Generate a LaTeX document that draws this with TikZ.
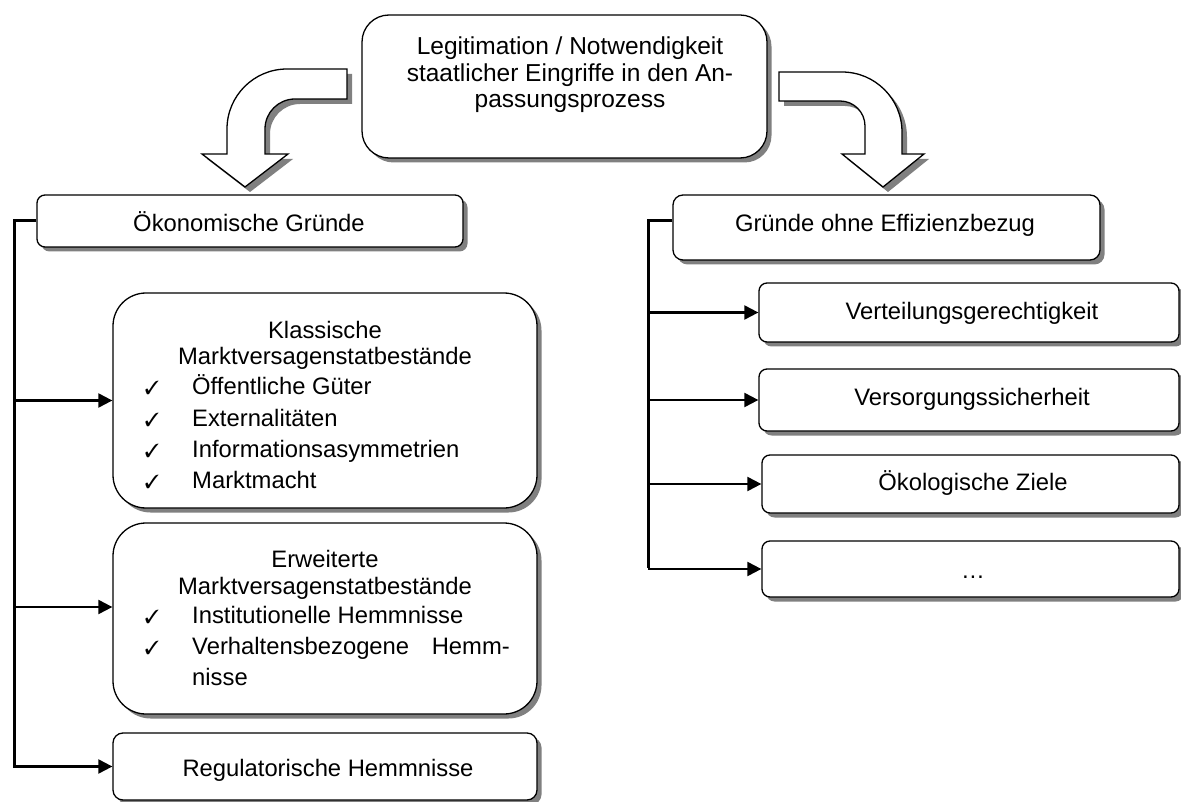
\documentclass[tikz,border=0pt]{standalone}
\usepackage{fontspec}
\setmainfont{Liberation Sans}
\usepackage{pifont}
\usetikzlibrary{shadows,arrows.meta,calc}
\tikzset{
  box/.style={draw=black, line width=1.3pt, fill=white, rounded corners=#1, inner sep=0pt,
    drop shadow={shadow xshift=4.5pt, shadow yshift=-4.5pt, fill=black!50, opacity=1}},
  box/.default=8pt,
  txt/.style={inner sep=0pt, anchor=base, font=\fontsize{23.8}{28}\selectfont},
  toptxt/.style={inner sep=0pt, anchor=base, font=\fontsize{24.5}{28}\selectfont},
  itm/.style={inner sep=0pt, anchor=base west, font=\fontsize{23.8}{28}\selectfont},
  chk/.style={inner sep=0pt, anchor=base, font=\fontsize{19}{20}\selectfont},
  bus/.style={line width=3pt},
  arr/.style={line width=2.2pt, -{Triangle[length=14pt,width=14pt]}},
  bent/.style={draw=black, line width=1.3pt, fill=white, line join=miter},
  bentshadow/.style={fill=black!50, draw=none}
}
\newcommand\LArrowPath{(347,69) -- (287,69) arc[start angle=270, end angle=180, radius=60] -- (227,154) -- (202,154) -- (245,187) -- (288,154) -- (265,154) -- (265,129) arc[start angle=180, end angle=270, radius=30] -- (347,99) -- cycle}
\newcommand\RArrowPath{(779,72) -- (842,72) arc[start angle=270, end angle=360, radius=60] -- (902,154) -- (924,154) -- (883,187) -- (842,154) -- (865,154) -- (865,126) arc[start angle=0, end angle=-90, radius=25] -- (779,101) -- cycle}
\begin{document}
\begin{tikzpicture}[x=1pt, y=-1pt]
\useasboundingbox (0,0) rectangle (1181,802);
\fill[white] (0,0) rectangle (1181,802);

% bent arrows
\path[bentshadow, shift={(5,5)}] \LArrowPath;
\path[bent] \LArrowPath;
\path[bentshadow, shift={(5,5)}] \RArrowPath;
\path[bent] \RArrowPath;

% top box
\node[box=27pt, minimum width=405pt, minimum height=143pt] (T) at (564.5,86.5) {};
\node[toptxt] (t1) at (570,55) {Legitimation / Notwendigkeit};
\node[toptxt] (t2) at (570,82) {staatlicher Eingriffe in den An-};
\node[toptxt] (t3) at (570,108) {passungsprozess};

% left column
\node[box=8pt, minimum width=426pt, minimum height=52pt] (O) at (250,221) {};
\node[txt] (ot) at (249,232) {Ökonomische Gründe};

\node[box=33pt, minimum width=424pt, minimum height=215pt] (K) at (325,400.5) {};
\node[txt] (k1) at (325,338) {Klassische};
\node[txt] (k2) at (325,365) {Marktversagenstatbestände};
\node[chk] (kc1) at (152,395) {\ding{51}};
\node[itm] (ki1) at (192,395) {Öffentliche Güter};
\node[chk] (kc2) at (152,426) {\ding{51}};
\node[itm] (ki2) at (192,426) {Externalitäten};
\node[chk] (kc3) at (152,457) {\ding{51}};
\node[itm] (ki3) at (192,457) {Informationsasymmetrien};
\node[chk] (kc4) at (152,488) {\ding{51}};
\node[itm] (ki4) at (192,488) {Marktmacht};

\node[box=33pt, minimum width=424pt, minimum height=191pt] (E) at (325,618.5) {};
\node[txt] (e1) at (325,567) {Erweiterte};
\node[txt] (e2) at (325,594) {Marktversagenstatbestände};
\node[chk] (ec1) at (152,623) {\ding{51}};
\node[itm] (ei1) at (192,623) {Institutionelle Hemmnisse};
\node[chk] (ec2) at (152,654) {\ding{51}};
\node[itm] (ei2) at (192,654) {Verhaltensbezogene};
\node[txt, anchor=base east] (ei2b) at (510,654) {Hemm-};
\node[itm] (ei3) at (192,685) {nisse};

\node[box=10pt, minimum width=424pt, minimum height=67pt] (R) at (325,766.5) {};
\node[txt] (rt) at (328,776) {Regulatorische Hemmnisse};

% right column
\node[box=10pt, minimum width=427pt, minimum height=65pt] (G) at (886.5,227.5) {};
\node[txt] (gt) at (885,232) {Gründe ohne Effizienzbezug};

\node[box=8pt, minimum width=420pt, minimum height=59pt] (V1) at (969,312.5) {};
\node[txt] (v1t) at (972,320) {Verteilungsgerechtigkeit};
\node[box=8pt, minimum width=420pt, minimum height=62pt] (V2) at (969,400) {};
\node[txt] (v2t) at (972,405) {Versorgungssicherheit};
\node[box=8pt, minimum width=417pt, minimum height=58pt] (V3) at (970.5,484) {};
\node[txt] (v3t) at (973,490) {Ökologische Ziele};
\node[box=8pt, minimum width=417pt, minimum height=56pt] (V4) at (970.5,569) {};
\node[txt] (v4t) at (973,578) {…};

% connectors left
\coordinate (lb) at (14,768);
\draw[bus] (O.west) -- (O.west -| lb) -- (lb);
\draw[arr] (K.west -| lb) -- (K.west);
\draw[arr] ($(E.west -| lb)+(0,-11.5)$) -- ($(E.west)+(0,-11.5)$);
\draw[arr] (R.west -| lb) -- (R.west);

% connectors right
\coordinate (rb) at (648,568);
\draw[bus] ($(G.west)+(0,-6.5)$) -- ($(G.west -| rb)+(0,-6.5)$) -- (rb);
\draw[arr] (V1.west -| rb) -- (V1.west);
\draw[arr] (V2.west -| rb) -- (V2.west);
\draw[arr] (V3.west -| rb) -- (V3.west);
\draw[arr] (V4.west -| rb) -- (V4.west);
\end{tikzpicture}
\end{document}
